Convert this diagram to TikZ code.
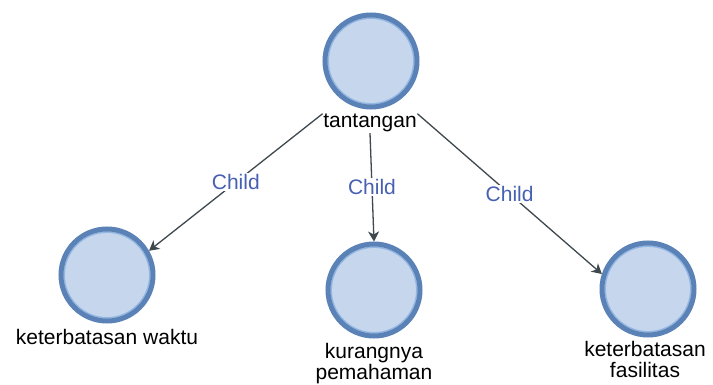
\documentclass[tikz,border=0pt]{standalone}
\usepackage{fontspec}
\setmainfont{Liberation Sans}
\usetikzlibrary{arrows.meta}
\definecolor{ringc}{RGB}{90,130,182}
\definecolor{fillc}{RGB}{198,214,236}
\definecolor{bandc}{RGB}{145,182,226}
\definecolor{edgec}{RGB}{62,72,78}
\definecolor{childc}{RGB}{72,96,178}
\begin{document}
\begin{tikzpicture}[x=1pt,y=-1pt,
  topic/.style={circle, draw=ringc, fill=fillc, line width=5pt, minimum size=92pt, inner sep=0pt,
    path picture={\draw[bandc, line width=1.4pt] (path picture bounding box.center) circle[radius=42.8pt];}},
  lbl/.style={inner sep=0.5pt, font=\fontsize{21}{21}\selectfont, text=black, align=center},
  edge/.style={draw=edgec, line width=1.3pt, -{Stealth[length=10pt,width=11pt,inset=3pt]}},
  elbl/.style={fill=white, inner sep=1.5pt, text=childc, font=\fontsize{21}{22}\selectfont}]
\useasboundingbox[fill=white] (0,0) rectangle (713,385);
\node[topic] (root) at (371,61) {};
\node[lbl, anchor=base] (tl) at (370,128) {tantangan};
\node[topic] (lc) at (107,275) {};
\node[lbl, anchor=base] (ll) at (107,344) {keterbatasan waktu};
\node[topic] (mc) at (374,290) {};
\node[lbl, anchor=north] (ml) at (374,343) {kurangnya\\pemahaman};
\node[topic] (rc) at (648,289) {};
\node[lbl, anchor=north] (rl) at (645,341) {keterbatasan\\fasilitas};
\draw[edge] (tl.north west) -- node[elbl] {Child} (lc.30);
\draw[edge] (tl.south) -- node[elbl] {Child} (mc.90);
\draw[edge] (tl.north east) -- node[elbl] {Child} (rc.162);
\end{tikzpicture}
\end{document}
